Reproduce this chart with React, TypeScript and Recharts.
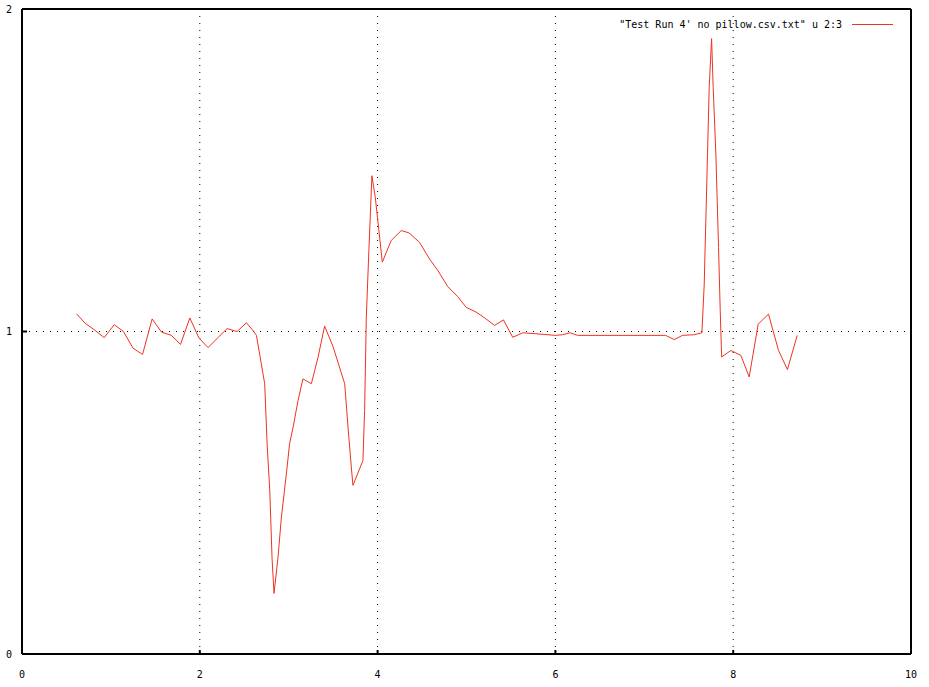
import React from "react";
import {
  LineChart,
  Line,
  XAxis,
  YAxis,
  CartesianGrid,
  Legend,
} from "recharts";

// column 2 (x) and column 3 (y) of the test run file
const xs = [
  0.614, 0.708, 0.815, 0.925, 1.037, 1.138, 1.25, 1.356, 1.464, 1.57, 1.68,
  1.783, 1.888, 1.99, 2.093, 2.2, 2.307, 2.419, 2.525, 2.607, 2.637, 2.73,
  2.757, 2.787, 2.813, 2.835, 2.88, 2.918, 2.974, 3.01, 3.05, 3.105, 3.16,
  3.255, 3.33, 3.404, 3.5, 3.63, 3.667, 3.704, 3.723, 3.835, 3.854, 3.873,
  3.902, 3.936, 3.974, 4.053, 4.153, 4.266, 4.352, 4.47, 4.584, 4.678, 4.79,
  4.902, 4.996, 5.109, 5.2, 5.315, 5.416, 5.52, 5.633, 5.78, 6.0, 6.08, 6.165,
  6.25, 7.24, 7.337, 7.43, 7.56, 7.648, 7.674, 7.693, 7.711, 7.73, 7.757,
  7.775, 7.805, 7.835, 7.854, 7.87, 7.974, 8.086, 8.18, 8.281, 8.397, 8.51,
  8.61, 8.72,
];
const ys = [
  1.055, 1.026, 1.005, 0.981, 1.021, 1.001, 0.948, 0.929, 1.039, 0.998, 0.988,
  0.96, 1.042, 0.98, 0.95, 0.98, 1.009, 1.0, 1.027, 1.0, 0.988, 0.838, 0.652,
  0.508, 0.296, 0.188, 0.301, 0.425, 0.559, 0.652, 0.704, 0.786, 0.853, 0.838,
  0.92, 1.017, 0.952, 0.838, 0.704, 0.58, 0.523, 0.6, 0.755, 1.044, 1.251,
  1.483, 1.416, 1.215, 1.282, 1.313, 1.306, 1.277, 1.225, 1.189, 1.139, 1.108,
  1.075, 1.06, 1.043, 1.019, 1.036, 0.982, 0.996, 0.993, 0.988, 0.99, 0.996,
  0.988, 0.988, 0.975, 0.988, 0.99, 0.996, 1.147, 1.354, 1.55, 1.756, 1.908,
  1.756, 1.55, 1.261, 1.065, 0.921, 0.941, 0.926, 0.859, 1.023, 1.054, 0.941,
  0.882, 0.988,
];
const xTicks = [0, 2, 4, 6, 8, 10];
const yTicks = [0, 1, 2];
const seriesName = "\"Test Run 4' no pillow.csv.txt\" u 2:3";

const data = xs.map((x, i) => ({ x, y: ys[i] }));

const RED = "#ee3322";
const MONO = "'DejaVu Sans Mono', monospace";
const tickStyle = { fill: "#000", fontSize: 10, fontFamily: MONO };
const frame = { stroke: "#000", strokeWidth: 2 };

// gnuplot style key: text, then a short sample of the line
function GnuLegend() {
  return (
    <div style={{ display: "flex", alignItems: "center", fontFamily: MONO, fontSize: 10, color: "#000" }}>
      <span style={{ whiteSpace: "pre" }}>{seriesName}</span>
      <span style={{ display: "inline-block", width: 41, height: 1, background: RED, marginLeft: 10 }} />
    </div>
  );
}

export default function App() {
  return (
    <div style={{ position: "absolute", left: 0, top: 0, width: 929, height: 687, background: "#fff" }}>
      <LineChart width={929} height={687} data={data} margin={{ top: 0, right: 17, bottom: 0, left: 0 }}>
        <CartesianGrid
          xAxisId="b"
          yAxisId="l"
          stroke="#000"
          strokeDasharray="1 6"
          horizontalValues={[1]}
          verticalValues={[2, 4, 6, 8]}
        />
        <XAxis
          xAxisId="b"
          dataKey="x"
          type="number"
          domain={[0, 10]}
          ticks={xTicks}
          height={33}
          axisLine={frame}
          tickLine={frame}
          tickSize={-4}
          tickMargin={21}
          tick={tickStyle}
        />
        {/* mirrored axes close the frame on top and right */}
        <XAxis
          xAxisId="t"
          dataKey="x"
          type="number"
          domain={[0, 10]}
          ticks={xTicks}
          orientation="top"
          height={9}
          tick={false}
          tickLine={frame}
          tickSize={-4}
          axisLine={frame}
        />
        <YAxis
          yAxisId="l"
          type="number"
          domain={[0, 2]}
          ticks={yTicks}
          width={22}
          axisLine={frame}
          tickLine={frame}
          tickSize={-5}
          tickMargin={15}
          tick={tickStyle}
        />
        <YAxis
          yAxisId="r"
          type="number"
          domain={[0, 2]}
          ticks={yTicks}
          orientation="right"
          width={1}
          tick={false}
          tickLine={frame}
          tickSize={-5}
          axisLine={frame}
        />
        <Legend
          layout="horizontal"
          verticalAlign="middle"
          content={<GnuLegend />}
          wrapperStyle={{ position: "absolute", top: 19, right: 36, left: "auto", bottom: "auto", width: "auto" }}
        />
        <Line
          xAxisId="b"
          yAxisId="l"
          type="linear"
          dataKey="y"
          name={seriesName}
          stroke={RED}
          strokeWidth={1}
          dot={false}
          isAnimationActive={false}
        />
      </LineChart>
    </div>
  );
}
